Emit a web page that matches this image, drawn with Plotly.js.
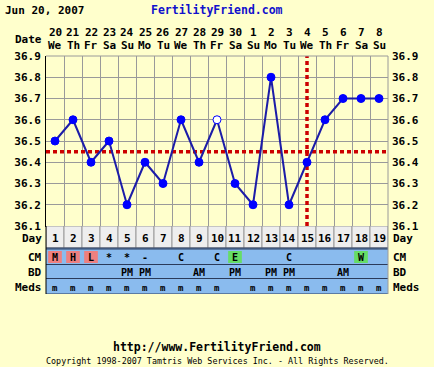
<!DOCTYPE html>
<html>
<head>
<meta charset="utf-8">
<script src="https://cdn.plot.ly/plotly-3.0.1.min.js"></script>
<style>
html,body{margin:0;padding:0;background:#FFFFCC;}
#chart{width:434px;height:367px;}
</style>
</head>
<body>
<div id="chart"></div>
<script>
// ---------- data ----------
const days = [1,2,3,4,5,6,7,8,9,10,11,12,13,14,15,16,17,18,19];
const dates = ['20','21','22','23','24','25','26','27','28','29','30','1','2','3','4','5','6','7','8'];
const weekdays = ['We','Th','Fr','Sa','Su','Mo','Tu','We','Th','Fr','Sa','Su','Mo','Tu','We','Th','Fr','Sa','Su'];
const temps = [36.5,36.6,36.4,36.5,36.2,36.4,36.3,36.6,36.4,36.6,36.3,36.2,36.8,36.2,36.4,36.6,36.7,36.7,36.7];
const openDays = [10];
const coverline = 36.45;
const ovulationDay = 15;
const tempTicks = [36.1,36.2,36.3,36.4,36.5,36.6,36.7,36.8,36.9];
const tempTickText = ['36.1','36.2','36.3','36.4','36.5','36.6','36.7','36.8','36.9'];
const cm = ['M','H','L','*','*','-','','C','','C','E','','','C','','','','W',''];
const bd = ['','','','','PM','PM','','','AM','','PM','','PM','PM','','','AM','',''];
const meds = ['m','m','m','m','m','m','m','m','m','m','','m','m','m','m','m','m','m','m'];
const headerDate = 'Jun 20, 2007';
const siteName = 'FertilityFriend.com';
const siteUrl = 'http://www.FertilityFriend.com';
const copyright = 'Copyright 1998-2007 Tamtris Web Services Inc. - All Rights Reserved.';

// ---------- styling / layout constants ----------
const W = 434, H = 367;
const M = {l:46, r:46, t:56, b:73};
const plotH = H - M.t - M.b;           // 238
const tableH = 68;                     // pixel height of table
const D = tableH / plotH;              // split of domains
const mono = 'DejaVu Sans Mono';
const BG = '#FFFFCC';
const GRID = '#9a9a9a';
const BLUE_CELL = '#8ABBEE';
const DAY_CELL = '#EEEEEE';
const cmFill = {M:'#EE8080', H:'#EE8080', L:'#EE8080', E:'#66DD66', W:'#66DD66'};
// table rows (y2 units = pixels below the temperature plot)
const rows = {day:[0,22], cm:[23,38.5], bd:[38.5,52.5], meds:[52.5,68]};
const rowText = {day:12.5, cm:31, bd:46, meds:61.5};

function py(p){ return (H - M.b - p) / plotH; }   // pixel y -> paper y

const boundaries = days.slice(0,-1).map(d => d + 0.5);

// ---------- traces ----------
const traces = [];
traces.push({
  x:[days[0]-0.5, days[days.length-1]+0.5], y:[coverline, coverline],
  xaxis:'x', yaxis:'y', mode:'lines', hoverinfo:'skip',
  line:{color:'#CC0000', width:3.5, dash:'4px,3px'}
});
traces.push({
  x:[ovulationDay, ovulationDay], y:[tempTicks[0], tempTicks[tempTicks.length-1]],
  xaxis:'x', yaxis:'y', mode:'lines', hoverinfo:'skip',
  line:{color:'#CC0000', width:3.5, dash:'4px,3px'}
});
traces.push({
  x:days, y:temps, xaxis:'x', yaxis:'y', mode:'lines+markers',
  line:{color:'#1C1CA8', width:2},
  marker:{size:8, color:days.map(d => openDays.includes(d) ? '#FFFFFF' : '#0000FF'),
          line:{color:'#0000FF', width:1}}
});
// invisible trace to carry the right-hand axis
traces.push({x:days, y:temps, xaxis:'x', yaxis:'y3', mode:'lines', line:{width:0}, hoverinfo:'skip'});
// invisible trace on the table subplot
traces.push({x:[days[0]], y:[0], xaxis:'x2', yaxis:'y2', mode:'markers', marker:{opacity:0}, hoverinfo:'skip'});

// ---------- shapes (table cells) ----------
const shapes = [];
days.forEach((d,i) => {
  shapes.push({type:'rect', xref:'x2', yref:'y2', x0:d-0.5, x1:d+0.5, y0:rows.day[0], y1:rows.day[1],
               fillcolor:DAY_CELL, line:{color:GRID, width:1}});
  shapes.push({type:'rect', xref:'x2', yref:'y2', x0:d-0.5, x1:d+0.5, y0:rows.day[1], y1:rows.meds[1],
               fillcolor:BLUE_CELL, line:{width:0}});
  if (cmFill[cm[i]]) {
    shapes.push({type:'rect', xref:'x2', yref:'y2', x0:d-0.38, x1:d+0.38, y0:rows.cm[0]+2, y1:rows.cm[1]-1.5,
                 fillcolor:cmFill[cm[i]], line:{width:0}});
  }
});
[rows.day[1], rows.cm[0], rows.bd[0], rows.meds[0], rows.meds[1]].forEach(v => {
  shapes.push({type:'line', xref:'paper', yref:'y2', x0:0, x1:1, y0:v, y1:v, line:{color:'#2A3A5A', width:1}});
});
shapes.push({type:'line', xref:'paper', yref:'y2', x0:0, x1:0, y0:0, y1:rows.meds[1], line:{color:'#000', width:1}});
shapes.push({type:'line', xref:'paper', yref:'y2', x0:1, x1:1, y0:0, y1:rows.meds[1], line:{color:GRID, width:1}});
// temperature plot frame (top/right)
shapes.push({type:'line', xref:'paper', yref:'paper', x0:0, x1:1, y0:1, y1:1, line:{color:GRID, width:1}});
shapes.push({type:'line', xref:'paper', yref:'paper', x0:1, x1:1, y0:D, y1:1, line:{color:GRID, width:1}});

// ---------- annotations ----------
const ann = [];
const f = (size, color, weight) => ({family:mono, size:size, color:color||'#000', weight:weight||'bold'});
function txt(o){ ann.push(Object.assign({showarrow:false}, o)); }

days.forEach((d,i) => {
  txt({x:d, xref:'x', y:py(33), yref:'paper', text:dates[i], font:f(11), xanchor:'center', yanchor:'middle'});
  txt({x:d, xref:'x', y:py(45.5), yref:'paper', text:weekdays[i], font:f(11), xanchor:'center', yanchor:'middle'});
  txt({x:d, xref:'x2', y:rowText.day, yref:'y2', text:String(d), font:f(11), xanchor:'center', yanchor:'middle'});
  if (cm[i]) txt({x:d, xref:'x2', y:rowText.cm, yref:'y2', text:cm[i], font:f(10), xanchor:'center', yanchor:'middle'});
  if (bd[i]) txt({x:d, xref:'x2', y:rowText.bd, yref:'y2', text:bd[i], font:f(10), xanchor:'center', yanchor:'middle'});
  if (meds[i]) txt({x:d, xref:'x2', y:rowText.meds, yref:'y2', text:meds[i], font:f(9), xanchor:'center', yanchor:'middle'});
});
txt({x:0, xref:'paper', xshift:-2, y:py(39), yref:'paper', text:'Date', font:f(11), xanchor:'right', yanchor:'middle'});
[['Day',rowText.day],['CM',rowText.cm],['BD',rowText.bd],['Meds',rowText.meds]].forEach(([t,v]) => {
  txt({x:0, xref:'paper', xshift:-2, y:v, yref:'y2', text:t, font:f(11), xanchor:'right', yanchor:'middle'});
  txt({x:1, xref:'paper', xshift:3, y:v, yref:'y2', text:t, font:f(11), xanchor:'left', yanchor:'middle'});
});
txt({x:(3-M.l)/(W-M.l-M.r), xref:'paper', y:py(10), yref:'paper', text:headerDate, font:f(11), xanchor:'left', yanchor:'middle'});
txt({x:0.5, xref:'paper', y:py(10), yref:'paper', text:siteName, font:f(11.5,'#1111CC'), xanchor:'center', yanchor:'middle'});
txt({x:0.5, xref:'paper', y:py(347), yref:'paper', text:siteUrl, font:f(11.5), xanchor:'center', yanchor:'middle'});
txt({x:0.5, xref:'paper', y:py(361), yref:'paper', text:copyright, font:f(8.4,'#000','normal'), xanchor:'center', yanchor:'middle'});

// ---------- layout ----------
const layout = {
  width:W, height:H, margin:{l:M.l, r:M.r, t:M.t, b:M.b, pad:0},
  paper_bgcolor:BG, plot_bgcolor:BG, showlegend:false,
  xaxis:{domain:[0,1], range:[0.5,19.5], anchor:'y', tickvals:boundaries, showticklabels:false, ticks:'',
         showgrid:true, gridcolor:GRID, gridwidth:1, showline:true, linecolor:'#000', linewidth:1, zeroline:false, fixedrange:true},
  yaxis:{domain:[D,1], range:[36.1,36.9], anchor:'x', tickvals:tempTicks, ticktext:tempTickText, ticks:'',
         tickfont:f(11), showgrid:true, gridcolor:GRID, gridwidth:1, showline:true, linecolor:'#000', linewidth:1,
         zeroline:false, fixedrange:true, ticklabelstandoff:2},
  yaxis3:{overlaying:'y', side:'right', anchor:'x', range:[36.1,36.9], tickvals:tempTicks, ticktext:tempTickText,
          ticks:'', tickfont:f(11), showgrid:false, showline:false, zeroline:false, fixedrange:true, ticklabelstandoff:3},
  xaxis2:{domain:[0,1], range:[0.5,19.5], anchor:'y2', showgrid:false, showticklabels:false, showline:false, zeroline:false, ticks:'', fixedrange:true},
  yaxis2:{domain:[0,D], range:[tableH,0], anchor:'x2', showgrid:false, showticklabels:false, showline:false, zeroline:false, ticks:'', fixedrange:true},
  shapes:shapes, annotations:ann
};

Plotly.newPlot('chart', traces, layout, {displayModeBar:false, staticPlot:true});
</script>
</body>
</html>
